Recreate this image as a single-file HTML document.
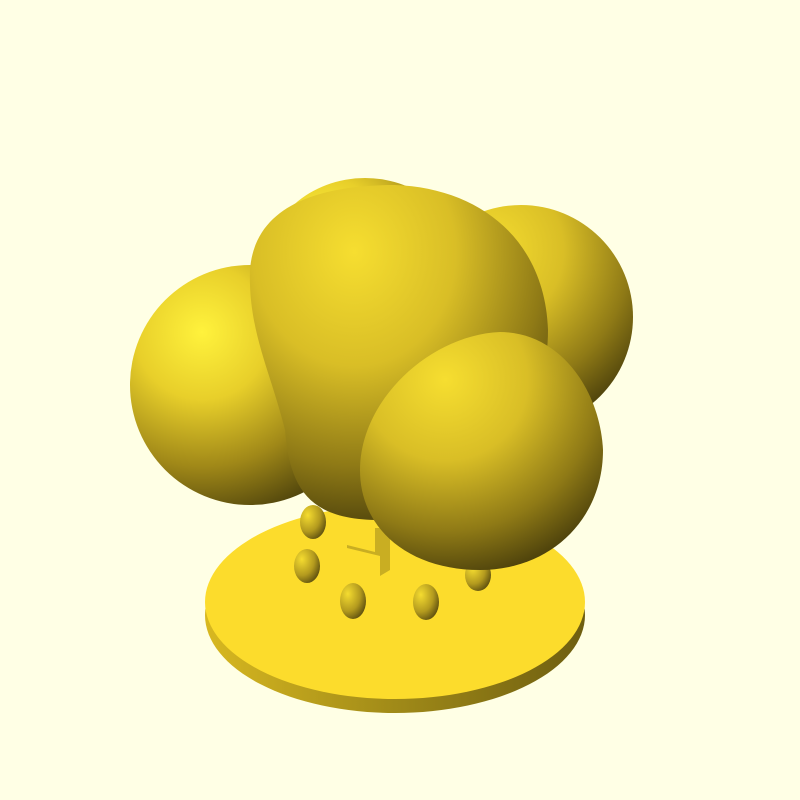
<!DOCTYPE html>
<html><head><meta charset="utf-8"><style>html,body{margin:0;padding:0;background:#FFFFE5}svg{display:block}</style></head>
<body>
<svg width="800" height="800" viewBox="0 0 800 800">
<defs>
<radialGradient id="sph" cx="0.3" cy="0.28" r="0.8">
<stop offset="0" stop-color="#FFF23C"/>
<stop offset="0.35" stop-color="#E8CF2A"/>
<stop offset="0.7" stop-color="#A08818"/>
<stop offset="1" stop-color="#4E430C"/>
</radialGradient>
<radialGradient id="sph2" cx="0.35" cy="0.2" r="0.85">
<stop offset="0" stop-color="#F6DE30"/>
<stop offset="0.4" stop-color="#D9BE26"/>
<stop offset="0.75" stop-color="#8F7A16"/>
<stop offset="1" stop-color="#4A3F0B"/>
</radialGradient>
<radialGradient id="egg" cx="0.3" cy="0.3" r="0.8">
<stop offset="0" stop-color="#F5DC30"/>
<stop offset="0.6" stop-color="#B39A1E"/>
<stop offset="1" stop-color="#5A4C0E"/>
</radialGradient>
<linearGradient id="side" x1="0" x2="1" y1="0" y2="0">
<stop offset="0" stop-color="#D8B820"/><stop offset="0.5" stop-color="#A08A18"/><stop offset="1" stop-color="#6E5E10"/>
</linearGradient>
</defs>
<g>
<ellipse cx="395" cy="615" rx="190" ry="98" fill="url(#side)"/>
<ellipse cx="395" cy="602" rx="190" ry="97" fill="#FCDC2C"/>
</g>
<g>
<ellipse cx="313" cy="522" rx="13" ry="17" fill="url(#egg)"/>
<ellipse cx="307" cy="566" rx="13" ry="17" fill="url(#egg)"/>
<ellipse cx="353" cy="601" rx="13" ry="18" fill="url(#egg)"/>
<ellipse cx="426" cy="602" rx="13" ry="18" fill="url(#egg)"/>
<ellipse cx="478" cy="575" rx="13" ry="16" fill="url(#egg)"/>
<path d="M347 548 L380 556 L380 576 L390 570 L390 528 L375 528 L375 552 L347 545 Z" fill="#C9AE22"/>
</g>
<circle cx="521" cy="317" r="112" fill="url(#sph2)"/>
<circle cx="250" cy="385" r="120" fill="url(#sph)"/>
<ellipse cx="365" cy="268" rx="100" ry="90" fill="url(#sph)"/>
<path d="M250 270 C255 200 330 185 395 185 C480 188 545 240 548 330 C548 430 470 520 380 520 C310 520 290 490 285 430 C270 370 248 330 250 270 Z" fill="url(#sph2)"/>
<path d="M360 470 C360 400 430 335 500 332 C560 332 600 390 603 450 C603 520 550 570 480 570 C410 570 360 530 360 470 Z" fill="url(#sph2)"/>
</svg>
</body></html>
